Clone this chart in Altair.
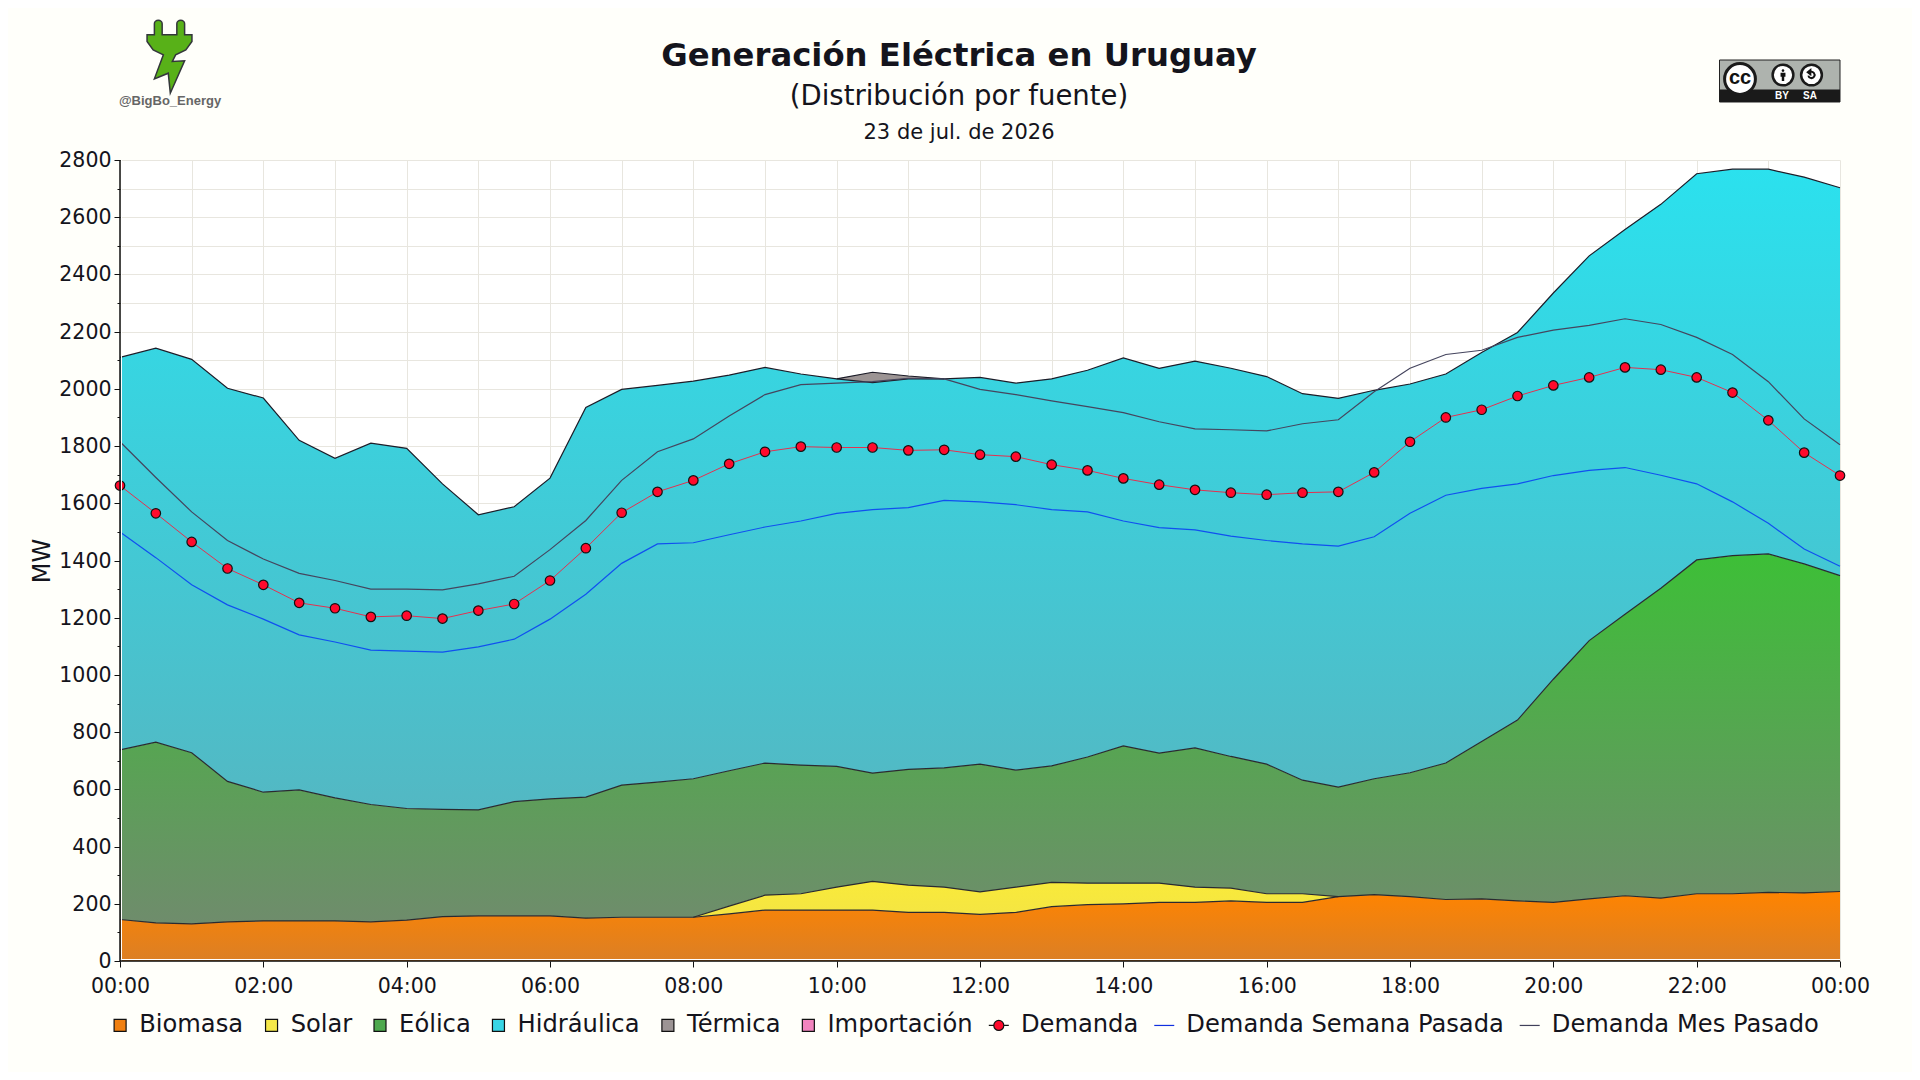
import altair as alt
import pandas as pd

horas = [i * 0.5 for i in range(49)]

tope_biomasa = [145,133,130,137,140,140,140,137,143,155,158,158,158,150,153,153,153,165,178,178,178,178,170,170,163,170,190,197,200,205,205,210,205,205,225,232,225,215,217,210,205,217,228,220,235,235,240,238,243]
tope_solar = [145,133,130,137,140,140,140,137,143,155,158,158,158,150,153,153,153,192,230,235,258,278,265,258,242,258,275,272,272,272,258,255,235,235,225,232,225,215,217,210,205,217,228,220,235,235,240,238,243]
tope_eolica = [738,765,728,628,590,598,570,547,533,530,528,557,567,573,615,625,637,665,692,685,680,657,670,675,688,667,682,713,752,727,745,715,688,632,608,637,658,692,767,842,985,1120,1212,1303,1402,1417,1423,1388,1347]
tope_hidraulica = [2110,2142,2103,2002,1968,1820,1757,1810,1792,1668,1560,1588,1688,1935,1998,2012,2027,2048,2075,2052,2035,2022,2035,2035,2040,2020,2035,2065,2108,2072,2097,2072,2043,1983,1967,1995,2017,2052,2127,2197,2335,2465,2557,2645,2752,2768,2768,2740,2703]
tope_termica = [2110,2142,2103,2002,1968,1820,1757,1810,1792,1668,1560,1588,1688,1935,1998,2012,2027,2048,2075,2052,2035,2058,2045,2035,2040,2020,2035,2065,2108,2072,2097,2072,2043,1983,1967,1995,2017,2052,2127,2197,2335,2465,2557,2645,2752,2768,2768,2740,2703]
demanda = [1662,1565,1465,1372,1315,1252,1233,1203,1207,1197,1225,1248,1330,1443,1567,1640,1680,1738,1780,1798,1795,1795,1785,1787,1770,1763,1735,1715,1687,1665,1647,1637,1630,1637,1640,1708,1815,1900,1927,1975,2012,2040,2075,2067,2040,1987,1890,1777,1697]
semana_pasada = [1500,1410,1315,1245,1195,1140,1115,1087,1083,1080,1098,1125,1195,1282,1390,1458,1462,1490,1517,1538,1565,1578,1585,1610,1605,1595,1578,1570,1538,1515,1507,1485,1470,1458,1450,1483,1565,1628,1652,1668,1697,1715,1725,1698,1668,1605,1530,1440,1380]
mes_pasado = [1815,1690,1570,1470,1405,1355,1330,1300,1300,1297,1318,1345,1438,1540,1680,1780,1825,1905,1980,2015,2020,2025,2037,2035,1998,1980,1958,1938,1917,1885,1860,1857,1853,1878,1892,1990,2072,2120,2135,2180,2205,2222,2245,2225,2180,2120,2025,1895,1805]

series_leyenda = ["Biomasa","Solar","Eólica","Hidráulica","Térmica","Importación","Demanda","Demanda Semana Pasada","Demanda Mes Pasado"]
rellenos = ["#f07f10","#f5e84a","#4ea94e","#38d5e5","#9c9494","#f284bf","#ff0a2c","transparent","transparent"]
bordes = ["#111111","#111111","#111111","#111111","#111111","#111111","#111111","#1030e0","#40405a"]
CUAD = "M-0.3,-0.6H0.9V0.6H-0.3Z"
LINEA = "M-1,0H1"
CIRC = "M-1,0H-0.5A0.5,0.5 0 1 1 0.5,0A0.5,0.5 0 1 1 -0.5,0M0.5,0H1"
formas = [CUAD,CUAD,CUAD,CUAD,CUAD,CUAD,CIRC,LINEA,LINEA]

FONDO = "#fffffa"
TEXTO = "#14141c"

df = pd.DataFrame({
    "hora": horas, "biomasa": tope_biomasa, "solar": tope_solar, "eolica": tope_eolica,
    "hidraulica": tope_hidraulica, "termica": tope_termica, "demanda": demanda,
    "semana": semana_pasada, "mes": mes_pasado, "base": [0] * 49,
})
df["solar_linea"] = df["solar"].where((df["hora"] >= 8) & (df["hora"] <= 17))
df["termica_linea"] = df["termica"].where((df["hora"] >= 10) & (df["hora"] <= 11.5))

escala_x = alt.Scale(domain=[0, 24], nice=False, zero=False)
escala_y = alt.Scale(domain=[0, 2800], nice=False)
eje_x = alt.Axis(
    values=list(range(0, 25)), title=None, grid=True, gridColor="#e8e6df", gridWidth=1,
    labelExpr="datum.value % 2 ? '' : ((datum.value % 24 < 10 ? '0' : '') + (datum.value % 24) + ':00')",
    labelFontSize=20.5, labelColor=TEXTO, labelFont="DejaVu Sans", labelPadding=9, labelOverlap=False,
    labelFlush=False, domain=False, tickColor="#111111", tickWidth=1,
    tickSize={"condition": {"test": "datum.value % 2 == 0", "value": 6}, "value": 0},
)
eje_y = alt.Axis(
    values=list(range(0, 2801, 100)), title="MW", grid=True, gridColor="#e8e6df", gridWidth=1,
    labelExpr="datum.value % 200 ? '' : datum.value", labelFontSize=20.5, labelColor=TEXTO,
    labelFont="DejaVu Sans", labelPadding=3, labelOverlap=False, labelFlush=False, labelOffset=0.5,
    domain=False, tickColor="#111111", tickWidth=1,
    tickSize={"condition": {"test": "datum.value % 200 == 0", "value": 6}, "value": 3},
    titleFontSize=24, titleFont="DejaVu Sans", titleFontWeight="normal", titleColor=TEXTO, titlePadding=4,
)
X = alt.X("hora:Q", scale=escala_x, axis=eje_x)


def grad(arriba, abajo):
    return alt.Gradient(gradient="linear", x1=0, x2=0, y1=0, y2=1,
                        stops=[alt.GradientStop(color=arriba, offset=0), alt.GradientStop(color=abajo, offset=1)])


def area(sup, inf, relleno):
    return alt.Chart(df).mark_area(color=relleno, opacity=1).encode(
        x=X, y=alt.Y(f"{sup}:Q", scale=escala_y, axis=eje_y), y2=alt.Y2(f"{inf}:Q"))


def linea(campo, color, ancho=1.2):
    return alt.Chart(df).mark_line(color=color, strokeWidth=ancho).encode(
        x=X, y=alt.Y(f"{campo}:Q", scale=escala_y, axis=eje_y))


marcos = pd.DataFrame({"cero": [0]})
capas = [
    area("biomasa", "base", grad("#ff8400", "#db7f25")),
    area("solar", "biomasa", grad("#f9ea3a", "#f3e445")),
    area("eolica", "solar", grad("#3dbf37", "#6f8c6c")),
    area("hidraulica", "eolica", grad("#2be1ee", "#53b8c3")),
    area("termica", "hidraulica", "#9c9494"),
    linea("biomasa", "#2a2a30"),
    linea("solar_linea", "#2a2a30"),
    linea("eolica", "#2a2a30"),
    linea("hidraulica", "#1c1c28"),
    linea("termica_linea", "#1c1c28"),
    linea("semana", "#1050f0"),
    linea("mes", "#45455e"),
    linea("demanda", "#e5304f", 1),
    alt.Chart(df).mark_point(filled=True, color="#ff0a2c", stroke="#111111", strokeWidth=1.2, size=90, opacity=1).encode(
        x=X, y=alt.Y("demanda:Q", scale=escala_y, axis=eje_y)),
    # filete blanco y ejes sobre las áreas
    alt.Chart(marcos).mark_rule(color="#ffffff", strokeWidth=1).encode(x=alt.value(1.5), y=alt.value(0), y2=alt.value(801)),
    alt.Chart(marcos).mark_rule(color="#ffffff", strokeWidth=1).encode(y=alt.value(799.5), x=alt.value(0), x2=alt.value(1720)),
    alt.Chart(marcos).mark_rule(color="#111111", strokeWidth=1.5).encode(x=alt.X("cero:Q", scale=escala_x, axis=eje_x)),
    alt.Chart(marcos).mark_rule(color="#111111", strokeWidth=1.5).encode(y=alt.Y("cero:Q", scale=escala_y, axis=eje_y)),
]

# Leyenda: filas sin valor en y, que solo alimentan las escalas de la leyenda
leg = alt.Legend(
    title=None, orient="none", legendX=-15, legendY=853, direction="horizontal", columns=9,
    labelFontSize=24.2, labelFont="DejaVu Sans", labelColor=TEXTO, labelOffset=10, labelLimit=400,
    symbolSize=400, symbolStrokeWidth=1.2, columnPadding=12.45, padding=0,
)
ley_df = pd.DataFrame({"serie": series_leyenda, "hora": [0.0] * 9, "nada": [None] * 9})
capa_leyenda = alt.Chart(ley_df).mark_point(filled=True, opacity=1).encode(
    x=alt.X("hora:Q", scale=escala_x, axis=eje_x),
    y=alt.Y("nada:Q", scale=escala_y, axis=eje_y),
    fill=alt.Fill("serie:N", scale=alt.Scale(domain=series_leyenda, range=rellenos), legend=leg, sort=None),
    stroke=alt.Stroke("serie:N", scale=alt.Scale(domain=series_leyenda, range=bordes), legend=leg, sort=None),
    shape=alt.Shape("serie:N", scale=alt.Scale(domain=series_leyenda, range=formas), legend=leg, sort=None),
)
capas.append(capa_leyenda)

punto = pd.DataFrame({"a": [0]})


def texto(t, x, y, **kw):
    return alt.Chart(pd.DataFrame({"t": [t]})).mark_text(**kw).encode(
        text="t:N", x=alt.value(x), y=alt.value(y))


def forma(path, x, y, size, **kw):
    return alt.Chart(punto).mark_point(shape=path, size=size, opacity=1, **kw).encode(
        x=alt.value(x), y=alt.value(y))


def caja(x, x2, y, y2, **kw):
    return alt.Chart(punto).mark_rect(**kw).encode(
        x=alt.value(x), x2=alt.value(x2), y=alt.value(y), y2=alt.value(y2))


ENCHUFE = ("M-.414,-.594L-.414,-.9A.106,.09 0 0 1 -.201,-.9L-.201,-.594L.201,-.594L.201,-.9A.106,.09 0 0 1 .414,-.9L.414,-.594"
           "L.615,-.594L.615,-.411L.447,-.183L.168,-.046L.078,.137L.414,.119L.022,1.005L-.034,.457L-.414,.612"
           "L-.168,-.046L-.447,-.183L-.615,-.411L-.615,-.594Z")
PERSONA = "M-.22,-.72A.22,.22 0 1 1 .22,-.72A.22,.22 0 1 1 -.22,-.72ZM-.4,-.35H.4V.3H.2V1H-.2V.3H-.4Z"
FLECHA = "M-.55,.1A.55,.55 0 1 0 -.2,-.52M-.2,-.85L-.2,-.15L-.65,-.5Z"

adornos = [
    forma(ENCHUFE, 49.5, -103.5, 5329, filled=True, color="#58b118", stroke="#33363a", strokeWidth=1.5),
    texto("@BigBo_Energy", 50, -59, font="Liberation Sans", fontWeight="bold", fontSize=13, color="#666666", align="center", baseline="middle"),
    caja(1599.5, 1720, -100, -58, color="#aeb3ae", stroke="#222222", strokeWidth=1),
    caja(1599.5, 1720, -70.5, -58, color="#1a1a1a"),
    forma("circle", 1620, -81, 950, filled=True, color="#ffffff", stroke="#1a1a1a", strokeWidth=3),
    texto("cc", 1620, -82, font="Liberation Sans", fontWeight="bold", fontSize=20, color="#111111", align="center", baseline="middle"),
    forma("circle", 1663, -85, 430, filled=True, color="#ffffff", stroke="#1a1a1a", strokeWidth=2.5),
    forma(PERSONA, 1663, -85, 150, filled=True, color="#111111", strokeWidth=0),
    forma("circle", 1691.5, -85, 430, filled=True, color="#ffffff", stroke="#1a1a1a", strokeWidth=2.5),
    forma(FLECHA, 1691.5, -85, 130, filled=False, color="#111111", strokeWidth=2),
    texto("BY", 1662, -64, font="Liberation Sans", fontWeight="bold", fontSize=10, color="#ffffff", align="center", baseline="middle"),
    texto("SA", 1690, -64, font="Liberation Sans", fontWeight="bold", fontSize=10, color="#ffffff", align="center", baseline="middle"),
    texto("23 de jul. de 2026", 839, -27, font="DejaVu Sans", fontSize=21, color=TEXTO, align="center", baseline="middle"),
]

chart = alt.layer(*capas, *adornos).properties(
    width=1720, height=801,
    title=alt.TitleParams(
        text="Generación Eléctrica en Uruguay", subtitle="(Distribución por fuente)",
        font="DejaVu Sans", fontSize=32.3, fontWeight="bold", color=TEXTO,
        subtitleFont="DejaVu Sans", subtitleFontSize=27.5, subtitleColor=TEXTO, subtitlePadding=10.5,
        anchor="middle", dx=-21, offset=-93,
    ),
    background=FONDO,
    autosize=alt.AutoSizeParams(type="none"),
    padding={"left": 112, "top": 152, "right": 72, "bottom": 111},
    usermeta={"embedOptions": {"defaultStyle": "body{background:#fffffa}"}},
).configure_view(fill="#ffffff", stroke=None)

chart.save("out.html", embed_options={"renderer": "svg", "actions": False})
